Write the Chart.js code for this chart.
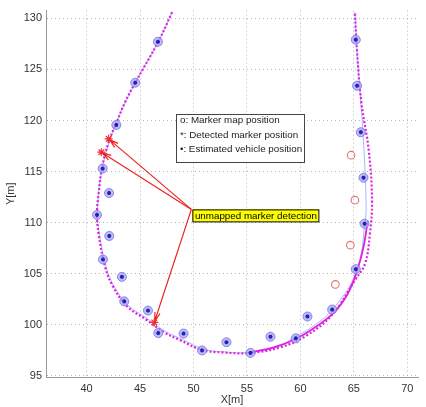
<!DOCTYPE html>
<html>
<head>
<meta charset="utf-8">
<script src="https://cdn.jsdelivr.net/npm/chart.js@4.4.0/dist/chart.umd.min.js"></script>
<style>
  html, body { margin: 0; padding: 0; background: #fff; }
  #wrap { width: 426px; height: 407px; }
</style>
</head>
<body>
<div id="wrap"><canvas id="grafico" width="426" height="407"></canvas></div>
<script>
// === DADOS ===
const xTicks = [40, 45, 50, 55, 60, 65, 70];
const yTicks = [95, 100, 105, 110, 115, 120, 125, 130];

// trajetória estimada (pontilhada magenta)
const estX = [48.0, 46.7, 44.55, 43.6, 42.84, 42.06, 41.44, 41.12, 40.97, 41.12, 41.75, 42.5, 43.8, 45.6, 47.2, 48.76, 50.8, 52.8, 55.3, 58.1, 60.56, 62.97, 65.18, 66.05, 66.5, 66.7, 66.4, 65.7, 65.3, 65.1];
const estY = [130.6, 127.7, 123.7, 121.8, 119.9, 117.9, 115.35, 112.8, 111.0, 108.9, 105.6, 103.7, 101.8, 100.5, 99.3, 98.5, 97.55, 97.3, 97.26, 97.8, 98.95, 101.0, 104.5, 106.0, 108.9, 112.1, 117.0, 121.8, 126.7, 130.6];

// trecho sólido magenta (canto inferior direito)
const solX = [55.3, 57.5, 59.3, 61.0, 63.08, 64.4, 65.27, 65.9, 66.3];
const solY = [97.3, 97.8, 98.5, 99.5, 101.15, 103.0, 105.2, 107.6, 110.2];

// trajetória de referência (azul claro)
const refX = [48.0, 46.7, 44.55, 42.84, 41.5, 41.0, 41.2, 41.85, 42.6, 43.9, 45.7, 47.3, 48.9, 50.9, 52.9, 55.3, 58.0, 59.5, 60.9, 63.08, 65.27, 66.06, 66.14, 65.9, 65.65, 65.3, 65.1];
const refY = [130.6, 127.7, 123.7, 119.9, 115.5, 111.0, 108.9, 105.6, 103.7, 101.9, 100.6, 99.4, 98.6, 97.65, 97.35, 97.3, 97.9, 98.85, 99.66, 101.6, 105.3, 110.2, 112.1, 118.0, 121.8, 126.7, 130.6];

// marcadores detectados (mapa + detecção)
const detX = [46.67, 44.55, 42.78, 41.5, 42.1, 40.97, 42.12, 41.53, 43.3, 43.52, 45.74, 46.7, 49.07, 50.8, 53.08, 55.33, 57.2, 59.57, 60.66, 62.97, 65.18, 66.0, 65.9, 65.65, 65.3, 65.18];
const detY = [127.7, 123.7, 119.56, 115.3, 112.9, 110.76, 108.7, 106.4, 104.7, 102.3, 101.4, 99.2, 99.15, 97.5, 98.3, 97.26, 98.84, 98.68, 100.82, 101.5, 105.45, 109.9, 114.4, 118.85, 123.4, 127.9];

// marcadores do mapa não detectados
const mapaX = [64.74, 65.1, 64.67, 63.27];
const mapaY = [116.6, 112.2, 107.8, 103.96];

// detecções sem marcador no mapa
const semMapaX = [42.06, 41.37, 46.33];
const semMapaY = [118.2, 116.9, 100.24];

const legendaTextos = ["o: Marker map position", "*: Detected marker position", "\u2022: Estimated vehicle position"];
const anotacaoTexto = "unmapped marker detection";

const pares = (xs, ys) => xs.map((x, i) => ({ x: x, y: ys[i] }));

// === PLUGIN: legenda e anotação ===
const extras = {
  id: "extras",
  afterDatasetsDraw(chart) {
    const ctx = chart.ctx;
    const sx = chart.scales.x, sy = chart.scales.y;
    ctx.save();

    // setas vermelhas
    const ox = sx.getPixelForValue(49.8), oy = sy.getPixelForValue(111.3);
    ctx.strokeStyle = "#ee2222";
    ctx.lineWidth = 1.2;
    semMapaX.forEach((vx, i) => {
      const tx = sx.getPixelForValue(vx), ty = sy.getPixelForValue(semMapaY[i]);
      const ang = Math.atan2(ty - oy, tx - ox);
      const ex = tx - Math.cos(ang) * 1.5, ey = ty - Math.sin(ang) * 1.5;
      ctx.beginPath();
      ctx.moveTo(ox, oy);
      ctx.lineTo(ex, ey);
      ctx.moveTo(ex - Math.cos(ang - 0.3) * 9, ey - Math.sin(ang - 0.3) * 9);
      ctx.lineTo(ex, ey);
      ctx.lineTo(ex - Math.cos(ang + 0.3) * 9, ey - Math.sin(ang + 0.3) * 9);
      ctx.stroke();
    });

    // caixa amarela
    ctx.font = "9.8px 'Liberation Sans', Arial, sans-serif";
    const bw = ctx.measureText(anotacaoTexto).width + 4;
    const bx = ox + 1, by = oy;
    ctx.fillStyle = "#ffff00";
    ctx.fillRect(bx, by, bw, 12);
    ctx.strokeStyle = "#000";
    ctx.lineWidth = 1;
    ctx.strokeRect(bx + 0.5, by + 0.5, bw, 12);
    ctx.fillStyle = "#000";
    ctx.textBaseline = "middle";
    ctx.fillText(anotacaoTexto, bx + 2.5, by + 6.5);

    // legenda
    const lx = 176, ly = 114, lw = 128, lh = 48;
    ctx.fillStyle = "#fff";
    ctx.fillRect(lx, ly, lw, lh);
    ctx.strokeStyle = "#444";
    ctx.strokeRect(lx + 0.5, ly + 0.5, lw, lh);
    ctx.fillStyle = "#222";
    legendaTextos.forEach((t, i) => ctx.fillText(t, lx + 4, ly + 6.5 + i * 14.5));

    ctx.restore();
  },
};

// === GRÁFICO ===
const fonte = { size: 11, family: "'Liberation Sans', Arial" };

new Chart(document.getElementById("grafico"), {
  type: "scatter",
  data: {
    datasets: [
      {
        data: pares(semMapaX, semMapaY),
        pointStyle: "star",
        radius: 4,
        borderColor: "#ee3333",
        borderWidth: 1.2,
      },
      {
        data: pares(detX, detY),
        pointStyle: "star",
        radius: 2,
        borderColor: "#2222bb",
        borderWidth: 1.3,
      },
      {
        data: pares(detX, detY),
        pointStyle: "circle",
        radius: 4.5,
        backgroundColor: "rgba(170,165,238,0.75)",
        borderColor: "rgba(125,115,230,0.85)",
        borderWidth: 1,
      },
      {
        data: pares(mapaX, mapaY),
        pointStyle: "circle",
        radius: 3.8,
        backgroundColor: "rgba(0,0,0,0)",
        borderColor: "#e87070",
        borderWidth: 1.1,
      },
      {
        data: pares(estX, estY),
        showLine: true,
        pointRadius: 0,
        borderColor: "#e020e0",
        borderWidth: 2.2,
        borderDash: [2, 2],
        tension: 0.4,
      },
      {
        data: pares(solX, solY),
        showLine: true,
        pointRadius: 0,
        borderColor: "#e020e0",
        borderWidth: 1.8,
        tension: 0.4,
      },
      {
        data: pares(refX, refY),
        showLine: true,
        pointRadius: 0,
        borderColor: "#a4b8ff",
        borderWidth: 1,
        tension: 0.4,
      },
    ],
  },
  options: {
    responsive: false,
    animation: false,
    layout: { padding: { top: 8, right: 8, left: 0, bottom: 0 } },
    plugins: { legend: { display: false }, tooltip: { enabled: false } },
    scales: {
      x: {
        type: "linear",
        min: 36.2,
        max: 71.0,
        afterBuildTicks: (s) => { s.ticks = xTicks.map((v) => ({ value: v })); },
        afterFit: (s) => { s.height = 30; },
        grid: { color: "#b4b4b4", drawTicks: false },
        border: { display: true, color: "#999", dash: [1, 3] },
        ticks: { color: "#333", font: fonte, padding: 5, maxRotation: 0 },
        title: { display: true, text: "X[m]", color: "#333", font: fonte, padding: { top: 0, bottom: 0 } },
      },
      y: {
        type: "linear",
        min: 94.9,
        max: 130.75,
        afterBuildTicks: (s) => { s.ticks = yTicks.map((v) => ({ value: v })); },
        afterFit: (s) => { s.width = 46; },
        grid: { color: "#b4b4b4", drawTicks: false },
        border: { display: true, color: "#999", dash: [1, 3] },
        ticks: { color: "#333", font: fonte, padding: 4 },
        title: { display: true, text: "Y[m]", color: "#333", font: fonte, padding: { top: 4, bottom: 0 } },
      },
    },
  },
  plugins: [extras],
});
</script>
</body>
</html>
